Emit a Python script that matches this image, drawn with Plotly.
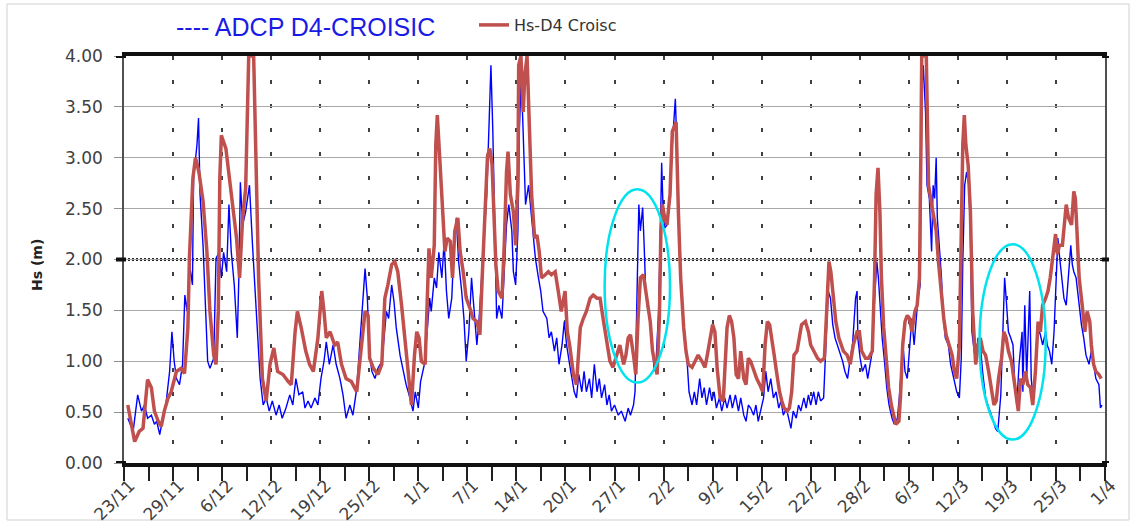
import plotly.graph_objects as go

# Significant wave height, time axis in days after 23/11
adcp_day = [0.5, 1.2, 1.8, 2.3, 2.7, 3.1, 3.6, 4.0, 4.3, 4.7, 5.1, 5.5, 6.0, 6.3, 6.6, 6.9, 7.3, 7.7, 8.0, 8.3,
            8.6, 9.0, 9.15, 9.6, 9.8, 10.0, 10.4, 10.7, 11.0, 11.3, 11.8, 12.1, 12.5, 12.8, 13.1, 13.5, 13.8, 14.1, 14.5, 14.9,
            15.1, 15.3, 15.6, 16.0, 16.5, 16.9, 17.4, 17.9, 18.3, 18.7, 19.1, 19.5, 20.0, 20.4, 20.8, 21.3, 21.8, 22.2, 22.6, 23.0,
            23.5, 23.8, 24.2, 24.6, 25.1, 25.5, 25.9, 26.3, 26.6, 27.0, 27.5, 27.9, 28.4, 28.8, 29.2, 29.7, 30.1, 30.6, 31.0, 31.4,
            31.7, 32.0, 32.3, 32.6, 33.0, 33.4, 33.9, 34.2, 34.5, 34.8, 35.2, 35.5, 35.8, 36.3, 36.7, 37.1, 37.6, 38.0, 38.3, 38.7,
            39.0, 39.5, 39.9, 40.2, 40.4, 40.8, 41.1, 41.4, 41.8, 42.1, 42.4, 42.7, 43.1, 43.4, 43.7, 44.0, 44.4, 44.7, 45.0, 45.35,
            45.7, 46.1, 46.4, 46.7, 47.0, 47.4, 47.7, 48.0, 48.25, 48.5, 48.8, 49.0, 49.3, 49.7, 50.0, 50.3, 50.6, 51.0, 51.2, 51.5,
            51.8, 52.0, 52.2, 52.4, 52.6, 52.8, 53.2, 53.5, 53.8, 54.1, 54.5, 54.8, 55.1, 55.6, 55.9, 56.2, 56.6, 56.9, 57.2, 57.6,
            57.9, 58.2, 58.6, 58.9, 59.2, 59.5, 59.8, 60.2, 60.5, 60.8, 61.2, 61.5, 61.85, 62.2, 62.5, 62.8, 63.2, 63.5, 63.8, 64.1,
            64.5, 65.0, 65.4, 65.9, 66.3, 66.6, 67.0, 67.2, 67.4, 67.7, 67.9, 68.2, 68.4, 68.6, 68.9, 69.2, 69.4, 69.7, 69.9, 70.3,
            70.5, 70.7, 70.9, 71.1, 71.4, 71.8, 72.1, 72.5, 72.7, 72.9, 73.1, 73.3, 73.6, 74.0, 74.3, 74.7, 75.0, 75.3, 75.7, 76.0,
            76.3, 76.6, 77.0, 77.3, 77.6, 77.9, 78.3, 78.6, 79.0, 79.3, 79.7, 80.0, 80.4, 80.8, 81.1, 81.5, 81.8, 82.1, 82.4, 82.8,
            83.1, 83.4, 83.7, 84.1, 84.4, 84.7, 85.05, 85.4, 85.75, 86.1, 86.4, 86.7, 87.1, 87.4, 87.7, 88.0, 88.4, 88.7, 89.0, 89.4,
            89.7, 90.0, 90.3, 90.7, 91.0, 91.3, 91.6, 92.0, 92.3, 92.6, 92.9, 93.2, 93.5, 93.8, 94.2, 94.5, 94.8, 95.15, 95.5, 95.8,
            96.2, 96.4, 96.5, 96.8, 97.1, 97.5, 97.8, 98.1, 98.4, 98.7, 99.0, 99.2, 99.45, 99.7, 100.0, 100.3, 100.6, 101.0, 101.3, 101.7,
            101.95, 102.2, 102.5, 102.7, 103.0, 103.3, 103.6, 103.9, 104.2, 104.4, 104.7, 104.9, 105.1, 105.4, 105.6, 105.9, 106.2, 106.4, 106.6, 106.8,
            106.95, 107.2, 107.5, 107.7, 108.0, 108.4, 108.7, 109.0, 109.2, 109.5, 109.85, 110.1, 110.3, 110.55, 110.8, 111.1, 111.3, 111.5, 111.8, 112.05,
            112.3, 112.6, 112.9, 113.3, 113.6, 113.9, 114.2, 114.6, 114.9, 115.3, 115.55, 115.8, 116.0, 116.3, 116.6, 116.9, 117.1, 117.4, 117.7, 117.9,
            118.1, 118.2, 118.45, 118.7, 118.9, 119.1, 119.3, 119.55, 119.8, 120.0, 120.2, 120.5, 120.8, 121.2, 121.4, 121.7, 122.0, 122.3, 122.6, 122.8,
            123.05, 123.3, 123.6, 123.9, 124.2, 124.5, 124.7, 124.9, 125.2, 125.6, 125.9, 126.2, 126.5, 126.9, 127.2, 127.5, 127.8, 128.2, 128.4, 128.6]
adcp_hs = [0.44, 0.31, 0.67, 0.51, 0.57, 0.44, 0.47, 0.38, 0.41, 0.28, 0.44, 0.57, 0.90, 1.29, 1.00, 0.83, 0.77, 0.97, 1.65, 1.49,
           1.96, 1.75, 2.80, 3.13, 3.39, 2.64, 2.13, 1.55, 1.00, 0.93, 1.03, 2.01, 2.07, 1.82, 2.07, 1.88, 2.54, 2.08, 1.75, 1.23,
           1.82, 2.76, 2.34, 2.47, 2.73, 2.14, 1.49, 0.83, 0.57, 0.64, 0.51, 0.61, 0.47, 0.57, 0.44, 0.54, 0.67, 0.57, 0.83, 0.67,
           0.70, 0.54, 0.61, 0.54, 0.64, 0.57, 0.83, 1.00, 1.19, 0.97, 1.16, 0.97, 0.83, 0.67, 0.44, 0.57, 0.47, 0.73, 1.16, 1.55,
           1.91, 1.62, 1.06, 0.90, 0.83, 0.93, 1.00, 1.23, 1.49, 1.42, 1.75, 1.59, 1.33, 1.06, 0.90, 0.77, 0.64, 0.51, 0.70, 0.54,
           0.80, 0.97, 1.33, 1.62, 1.49, 1.82, 1.72, 2.07, 1.82, 2.18, 1.69, 1.42, 1.62, 2.14, 2.41, 1.98, 1.69, 1.42, 1.00, 1.29,
           1.82, 1.49, 1.16, 1.42, 1.82, 2.37, 2.64, 3.32, 3.91, 3.26, 2.31, 1.42, 1.55, 1.42, 1.88, 2.34, 2.54, 2.28, 1.88, 1.75,
           2.28, 3.29, 3.72, 3.45, 3.00, 2.54, 2.73, 2.47, 2.28, 2.01, 1.82, 1.69, 1.49, 1.42, 1.23, 1.29, 1.10, 1.23, 0.97, 1.16,
           1.39, 1.16, 0.97, 0.83, 0.70, 0.64, 0.87, 0.70, 0.90, 0.70, 0.83, 0.64, 0.97, 0.70, 0.83, 0.64, 0.77, 0.57, 0.67, 0.51,
           0.57, 0.47, 0.51, 0.41, 0.54, 0.47, 0.57, 0.70, 1.49, 2.54, 2.28, 2.51, 2.14, 1.69, 1.49, 1.42, 1.23, 0.93, 0.90, 1.49,
           2.14, 2.95, 2.47, 2.31, 2.34, 2.64, 3.13, 3.58, 3.13, 2.47, 1.98, 1.75, 1.29, 1.06, 0.70, 0.57, 0.70, 0.57, 0.83, 0.64,
           0.74, 0.57, 0.74, 0.61, 0.70, 0.54, 0.64, 0.51, 0.64, 0.54, 0.67, 0.54, 0.67, 0.51, 0.64, 0.47, 0.41, 0.57, 0.54, 0.47,
           0.57, 0.41, 0.51, 0.64, 0.90, 0.70, 0.83, 0.64, 0.70, 0.54, 0.61, 0.47, 0.54, 0.44, 0.34, 0.51, 0.44, 0.57, 0.51, 0.64,
           0.54, 0.67, 0.57, 0.70, 0.57, 0.70, 0.61, 0.64, 1.16, 1.69, 1.62, 1.36, 1.23, 1.16, 1.06, 1.00, 0.90, 0.83, 1.03, 1.16,
           1.62, 1.69, 1.23, 1.03, 0.90, 0.97, 0.83, 0.97, 1.10, 1.62, 1.98, 1.82, 1.49, 1.23, 1.00, 0.74, 0.57, 0.44, 0.38, 0.44,
           0.64, 0.90, 1.10, 0.90, 0.83, 1.16, 1.42, 1.16, 1.49, 1.62, 1.75, 3.62, 3.91, 3.45, 2.73, 2.60, 2.08, 2.73, 2.60, 3.00,
           2.41, 2.14, 1.82, 1.49, 1.23, 1.16, 0.97, 0.87, 0.80, 0.70, 0.64, 1.03, 1.98, 2.73, 2.86, 2.73, 2.27, 1.29, 1.10, 0.97,
           1.23, 1.16, 0.90, 0.64, 0.57, 0.51, 0.44, 0.34, 0.31, 0.67, 1.23, 1.82, 1.62, 1.29, 1.23, 1.16, 0.83, 0.57, 0.97, 1.16,
           1.29, 0.70, 1.55, 0.83, 1.23, 1.69, 0.83, 0.64, 0.83, 1.06, 1.33, 1.26, 1.16, 1.29, 1.16, 1.10, 0.97, 1.29, 1.88, 2.21,
           2.01, 1.82, 1.62, 1.55, 1.82, 2.14, 1.95, 1.88, 1.82, 1.55, 1.36, 1.23, 1.06, 0.97, 1.10, 0.97, 0.83, 0.77, 0.54, 0.57]

model_day = [0.5, 1.4, 2.0, 2.5, 3.1, 3.6, 4.0, 4.5, 4.9, 5.3, 5.8, 6.2, 6.9, 7.5, 7.96, 8.4, 8.6, 9.06, 9.4, 9.85,
             10.4, 10.9, 11.3, 11.8, 12.1, 12.4, 12.6, 12.8, 13.4, 13.9, 14.3, 14.8, 15.2, 15.6, 16.0, 16.2, 16.4, 17.05, 17.3, 17.7,
             18.2, 18.7, 19.2, 19.7, 20.2, 20.9, 21.6, 22.0, 22.5, 22.8, 23.3, 23.9, 24.4, 24.9, 25.5, 26.0, 26.3, 26.6, 27.1, 27.7,
             28.1, 28.6, 29.2, 29.9, 30.6, 31.1, 31.7, 32.1, 32.3, 32.8, 33.4, 33.9, 34.3, 34.7, 35.2, 35.6, 36.0, 36.5, 36.9, 37.4,
             37.8, 38.2, 38.5, 38.8, 39.1, 39.6, 39.8, 40.1, 40.4, 40.8, 41.0, 41.2, 41.5, 41.8, 42.2, 42.5, 42.9, 43.2, 43.5, 43.9,
             44.2, 44.6, 45.0, 45.5, 45.9, 46.4, 46.8, 47.1, 47.5, 47.8, 48.1, 48.4, 48.9, 49.2, 49.7, 50.0, 50.3, 50.5, 50.8, 51.2,
             51.5, 51.8, 51.9, 52.2, 52.5, 52.7, 53.0, 53.2, 53.6, 54.0, 54.3, 54.6, 54.9, 55.4, 55.8, 56.2, 56.7, 57.1, 57.5, 58.0,
             58.3, 58.6, 59.1, 59.5, 60.0, 60.4, 60.8, 61.3, 61.7, 62.2, 62.6, 63.0, 63.5, 63.9, 64.3, 64.8, 65.2, 65.7, 66.0, 66.3,
             66.6, 67.0, 67.3, 67.6, 67.9, 68.3, 68.7, 69.2, 69.5, 69.8, 70.1, 70.4, 70.6, 70.8, 71.1, 71.4, 71.8, 72.1, 72.3, 72.6,
             72.9, 73.2, 73.6, 73.9, 74.2, 74.7, 75.1, 75.5, 76.0, 76.4, 76.7, 77.1, 77.4, 77.7, 78.0, 78.4, 78.8, 79.3, 79.6, 79.9,
             80.2, 80.5, 80.8, 81.1, 81.5, 81.8, 82.1, 82.4, 82.8, 83.2, 83.6, 84.0, 84.3, 84.6, 84.9, 85.2, 85.5, 85.8, 86.2, 86.5,
             86.8, 87.2, 87.5, 87.8, 88.1, 88.5, 88.8, 89.1, 89.6, 90.0, 90.3, 90.75, 91.2, 91.6, 92.1, 92.4, 92.7, 92.95, 93.3, 93.6,
             94.0, 94.3, 94.6, 95.1, 95.5, 95.9, 96.4, 96.7, 97.0, 97.5, 97.9, 98.4, 98.7, 98.9, 99.15, 99.4, 99.6, 99.9, 100.2, 100.55,
             100.9, 101.2, 101.5, 101.9, 102.1, 102.4, 102.7, 103.0, 103.3, 103.6, 104.0, 104.3, 104.6, 104.8, 104.9, 105.5, 105.6, 105.8, 106.2, 106.5,
             106.8, 107.1, 107.5, 107.8, 108.1, 108.45, 108.9, 109.2, 109.5, 109.85, 110.1, 110.3, 110.5, 110.7, 111.0, 111.3, 111.6, 112.0, 112.3, 112.6,
             112.96, 113.3, 113.7, 114.1, 114.4, 114.7, 115.0, 115.4, 115.7, 116.0, 116.3, 116.7, 117.0, 117.3, 117.6, 117.9, 118.2, 118.5, 118.85, 119.2,
             119.5, 119.85, 120.2, 120.5, 120.8, 121.2, 121.5, 121.8, 122.1, 122.5, 122.75, 123.0, 123.4, 123.7, 123.9, 124.2, 124.6, 124.9, 125.1, 125.3,
             125.6, 126.0, 126.35, 126.65, 127.0, 127.2, 127.5, 127.8, 128.2, 128.5]
model_hs = [0.57, 0.21, 0.31, 0.34, 0.82, 0.74, 0.51, 0.41, 0.36, 0.51, 0.64, 0.70, 0.90, 0.93, 0.88, 1.33, 2.01, 2.80, 3.00, 2.86,
            2.57, 2.08, 1.49, 1.06, 0.97, 1.49, 2.80, 3.22, 3.09, 2.80, 2.54, 2.21, 1.82, 2.41, 2.70, 3.29, 4.00, 4.00, 3.13, 1.82,
            0.83, 0.61, 0.97, 1.13, 0.90, 0.87, 0.80, 0.77, 1.29, 1.49, 1.33, 1.10, 0.97, 0.90, 1.23, 1.69, 1.49, 1.23, 1.29, 1.16,
            1.19, 0.97, 0.83, 0.80, 0.70, 1.10, 1.49, 1.45, 1.03, 0.93, 0.87, 0.97, 1.62, 1.75, 1.95, 1.98, 1.88, 1.55, 1.23, 0.83,
            0.57, 1.06, 1.29, 1.23, 1.00, 0.97, 1.49, 2.11, 1.82, 2.14, 3.13, 3.42, 3.02, 2.54, 2.08, 2.21, 2.18, 1.82, 2.28, 2.41,
            2.08, 1.88, 1.62, 1.52, 1.42, 1.39, 1.26, 1.82, 2.47, 3.02, 3.09, 2.93, 1.95, 1.69, 1.62, 2.14, 2.86, 3.06, 2.64, 2.47,
            2.14, 2.80, 3.91, 4.00, 3.45, 3.81, 4.00, 3.45, 2.64, 2.21, 2.24, 2.08, 1.82, 1.85, 1.88, 1.85, 1.88, 1.69, 1.49, 1.69,
            1.29, 1.16, 0.87, 0.77, 1.33, 1.42, 1.49, 1.62, 1.65, 1.62, 1.62, 1.42, 1.16, 1.00, 0.94, 1.06, 1.16, 0.97, 1.06, 1.23,
            1.26, 1.06, 0.87, 1.42, 1.82, 1.85, 1.62, 1.39, 1.10, 0.97, 0.87, 1.42, 2.28, 2.54, 2.41, 2.34, 2.64, 3.26, 3.29, 3.35,
            2.47, 1.82, 1.33, 1.10, 0.97, 0.94, 1.00, 1.06, 1.00, 0.94, 1.06, 1.23, 1.36, 1.29, 0.93, 0.64, 0.61, 1.33, 1.45, 1.39,
            1.23, 0.87, 0.83, 1.10, 0.83, 0.77, 1.03, 1.00, 0.90, 0.83, 0.77, 0.70, 1.16, 1.39, 1.36, 1.23, 1.06, 0.90, 0.70, 0.61,
            0.54, 0.51, 0.54, 0.70, 1.06, 1.10, 1.23, 1.36, 1.39, 1.29, 1.16, 1.10, 1.03, 1.00, 1.03, 1.49, 1.98, 1.88, 1.62, 1.39,
            1.23, 1.16, 1.10, 1.06, 0.97, 1.16, 1.29, 1.29, 1.10, 1.03, 1.03, 1.10, 1.82, 2.64, 2.90, 2.47, 1.82, 1.33, 1.06, 0.74,
            0.57, 0.47, 0.38, 0.41, 0.64, 1.16, 1.39, 1.45, 1.42, 1.29, 1.49, 1.55, 1.82, 3.13, 4.00, 4.00, 3.62, 2.73, 2.54, 2.41,
            2.28, 1.98, 1.65, 1.42, 1.26, 1.16, 1.06, 0.90, 0.83, 1.16, 2.14, 3.13, 3.42, 3.13, 2.93, 2.47, 1.49, 0.97, 1.16, 1.23,
            1.10, 1.06, 0.90, 0.70, 0.57, 0.61, 0.83, 1.03, 1.29, 1.23, 1.10, 1.00, 0.83, 0.64, 0.51, 0.83, 0.77, 0.90, 0.77, 0.74,
            0.57, 0.90, 1.39, 1.29, 1.55, 1.62, 1.69, 1.82, 2.01, 2.25, 2.05, 2.14, 2.14, 2.37, 2.54, 2.41, 2.34, 2.67, 2.60, 2.30,
            1.82, 1.55, 1.29, 1.49, 1.39, 1.16, 0.97, 0.90, 0.87, 0.83]

# Date labels, one every 6.45 days starting 23/11
tick_labels = ["23/11", "29/11", "6/12", "12/12", "19/12", "25/12", "1/1", "7/1", "14/1", "20/1", "27/1",
               "2/2", "9/2", "15/2", "22/2", "28/2", "6/3", "12/3", "19/3", "25/3", "1/4"]
label_step = 6.45
day_span = 129

# Highlighted episodes (day range, Hs range)
highlight_days = [(63.2, 71.8), (112.5, 121.2)]
highlight_hs = [(0.79, 2.69), (0.23, 2.15)]

threshold_hs = 2.0
emphasised_hs = [0.0, 2.0, 4.0]

BLUE = "#0000FF"
RED = "#C0504D"
CYAN = "#00E3EE"
TXT = "#404040"

W, H = 1136, 524
ML, MR, MT, MB = 124, 31, 56, 61
PW, PH = W - ML - MR, H - MT - MB


def px_x(p):
    return (p - ML) / PW


def px_y(p):
    return (H - MB - p) / PH


fig = go.Figure()
fig.add_trace(go.Scatter(x=adcp_day, y=adcp_hs, mode="lines", name="ADCP D4-CROISIC",
                         line=dict(color=BLUE, width=1.4), showlegend=False))
fig.add_trace(go.Scatter(x=model_day, y=model_hs, mode="lines", name="Hs-D4 Croisc",
                         line=dict(color=RED, width=3.5)))

major = [label_step * k for k in range(len(tick_labels))]
minor = [label_step * (k + 0.5) for k in range(len(tick_labels) - 1)]

fig.update_xaxes(
    range=[0, day_span], tickmode="array", tickvals=major, ticktext=tick_labels,
    tickangle=-45, tickfont=dict(family="DejaVu Sans", size=17, color=TXT),
    ticks="outside", ticklen=14, tickwidth=1.5, tickcolor="#202020",
    ticklabelstandoff=-12, ticklabelshift=6,
    showgrid=True, gridcolor="#404040", gridwidth=1.5, griddash="4px,20px",
    minor=dict(tickvals=minor, ticks="outside", ticklen=14, tickwidth=1.5, tickcolor="#202020", showgrid=False),
    showline=True, linewidth=4, linecolor="#111111", mirror=True, zeroline=False, automargin=False,
)
fig.update_yaxes(
    range=[0, 4], tickmode="array", tickvals=[0.5 * k for k in range(9)],
    ticktext=[f"{0.5 * k:.2f}" for k in range(9)],
    tickfont=dict(family="DejaVu Sans", size=17, color=TXT),
    ticks="outside", ticklen=8, tickcolor="#909090", ticklabelstandoff=8,
    showgrid=True, gridcolor="#A8A8A8", gridwidth=1,
    showline=True, linewidth=1.5, linecolor="#505050", mirror=True, zeroline=False, automargin=False,
)

shapes = [
    dict(type="line", xref="x", yref="y", x0=0, x1=day_span, y0=threshold_hs, y1=threshold_hs,
         line=dict(color="#222222", width=3, dash="2px,2px"), layer="below"),
    dict(type="rect", xref="paper", yref="paper", x0=px_x(7), x1=px_x(1129), y0=px_y(520), y1=px_y(4),
         line=dict(color="#D0D0D0", width=1), layer="below"),
]
# heavy tick marks on the emphasised levels, both sides of the frame
for lvl in emphasised_hs:
    shapes.append(dict(type="line", xref="paper", yref="y", x0=px_x(116), x1=px_x(126), y0=lvl, y1=lvl,
                       line=dict(color="#111111", width=4)))
    shapes.append(dict(type="line", xref="paper", yref="y", x0=px_x(1102), x1=px_x(1109), y0=lvl, y1=lvl,
                       line=dict(color="#111111", width=4)))
for (d0, d1), (h0, h1) in zip(highlight_days, highlight_hs):
    shapes.append(dict(type="circle", xref="x", yref="y", x0=d0, x1=d1, y0=h0, y1=h1,
                       line=dict(color=CYAN, width=2.5)))

annotations = [
    dict(text="---- ADCP D4-CROISIC", xref="paper", yref="paper", x=px_x(305), y=px_y(27),
         xanchor="center", yanchor="middle", showarrow=False,
         font=dict(family="Liberation Sans Narrow, Liberation Sans, Arial", size=25, color="#1A1AE6")),
    dict(text="<b>Hs (m)</b>", xref="paper", yref="paper", x=px_x(37), y=px_y(265), textangle=-90,
         xanchor="center", yanchor="middle", showarrow=False,
         font=dict(family="DejaVu Sans", size=14, color="#222222")),
]

fig.update_layout(
    width=W, height=H, margin=dict(l=ML, r=MR, t=MT, b=MB, autoexpand=False),
    paper_bgcolor="white", plot_bgcolor="white",
    shapes=shapes, annotations=annotations,
    legend=dict(x=px_x(474), y=px_y(25), xanchor="left", yanchor="middle", orientation="h",
                bgcolor="rgba(0,0,0,0)", font=dict(family="DejaVu Sans", size=16, color="#333333")),
)

fig.write_html("out.html")
